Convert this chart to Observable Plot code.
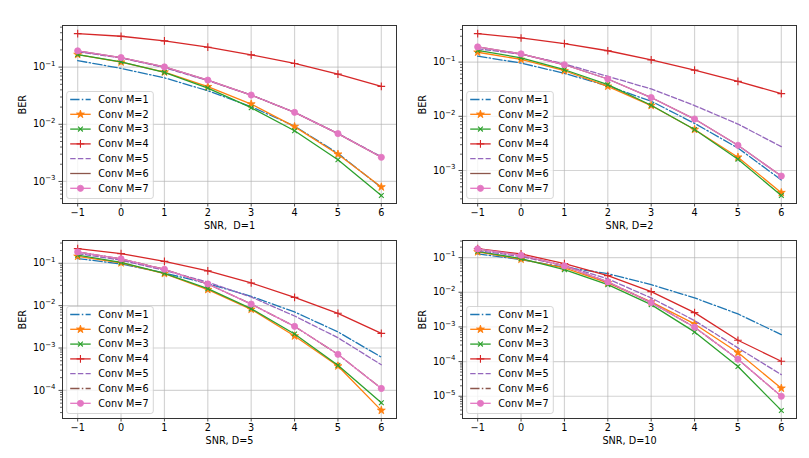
<!DOCTYPE html>
<html>
<head>
<meta charset="utf-8">
<script src="https://cdn.jsdelivr.net/npm/d3@7"></script>
<script src="https://cdn.jsdelivr.net/npm/@observablehq/plot@0.6"></script>
<style>
  html, body { margin: 0; padding: 0; background: white; }
  #fig { position: relative; width: 809px; height: 458px; overflow: hidden; background: white; }
  .panel { position: absolute; }
</style>
</head>
<body>
<div id="fig"></div>
<script>
// ---------------- data ----------------
const snr = [-1, 0, 1, 2, 3, 4, 5, 6];
const seriesNames = ["Conv M=1", "Conv M=2", "Conv M=3", "Conv M=4", "Conv M=5", "Conv M=6", "Conv M=7"];
const xLabels = ["SNR,  D=1", "SNR, D=2", "SNR, D=5", "SNR, D=10"];

// D = 1
const d1_m1 = [0.130, 0.095, 0.065, 0.0386, 0.0203, 0.0093, 0.0031, 0.00078];
const d1_m2 = [0.166, 0.122, 0.0818, 0.0454, 0.0226, 0.0091, 0.0030, 0.00080];
const d1_m3 = [0.166, 0.124, 0.081, 0.043, 0.0195, 0.0077, 0.0024, 0.00057];
const d1_m4 = [0.386, 0.347, 0.288, 0.223, 0.164, 0.116, 0.0755, 0.046];
const d1_m5 = [0.185, 0.145, 0.098, 0.058, 0.0325, 0.0162, 0.0069, 0.0027];
const d1_m6 = [0.193, 0.147, 0.101, 0.0593, 0.0325, 0.0162, 0.00687, 0.00265];
const d1_m7 = [0.193, 0.147, 0.101, 0.0593, 0.0325, 0.0162, 0.00687, 0.00265];

// D = 2
const d2_m1 = [0.129, 0.096, 0.062, 0.0363, 0.019, 0.0074, 0.0026, 0.00067];
const d2_m2 = [0.152, 0.112, 0.0693, 0.0358, 0.0158, 0.0057, 0.00176, 0.00039];
const d2_m3 = [0.164, 0.120, 0.0723, 0.0384, 0.016, 0.0057, 0.00161, 0.000347];
const d2_m4 = [0.336, 0.279, 0.220, 0.162, 0.110, 0.0713, 0.0442, 0.0262];
const d2_m5 = [0.176, 0.140, 0.093, 0.0546, 0.032, 0.0158, 0.0072, 0.00275];
const d2_m6 = [0.191, 0.142, 0.0894, 0.0488, 0.0222, 0.0089, 0.00292, 0.00079];
const d2_m7 = [0.191, 0.142, 0.0894, 0.0488, 0.0222, 0.0089, 0.00292, 0.00079];

// D = 5
const d5_m1 = [0.129, 0.0965, 0.059, 0.033, 0.0166, 0.0071, 0.0024, 0.00061];
const d5_m2 = [0.146, 0.102, 0.057, 0.0239, 0.0082, 0.00192, 0.000376, 0.0000337];
const d5_m3 = [0.155, 0.105, 0.058, 0.0252, 0.0085, 0.00214, 0.00039, 0.000051];
const d5_m4 = [0.222, 0.169, 0.111, 0.066, 0.0343, 0.0157, 0.0066, 0.00222];
const d5_m5 = [0.170, 0.118, 0.068, 0.036, 0.016, 0.0057, 0.00175, 0.000403];
const d5_m6 = [0.185, 0.127, 0.0722, 0.0325, 0.0109, 0.00325, 0.00071, 0.000111];
const d5_m7 = [0.185, 0.127, 0.0722, 0.0325, 0.0109, 0.00325, 0.00071, 0.000111];

// D = 10
const d10_m1 = [0.128, 0.0875, 0.0526, 0.0345, 0.0166, 0.0069, 0.00237, 0.0006];
const d10_m2 = [0.146, 0.0895, 0.0503, 0.0186, 0.00526, 0.00122, 0.000182, 0.000017];
const d10_m3 = [0.152, 0.0935, 0.045, 0.0166, 0.0044, 0.000718, 0.000072, 0.0000039];
const d10_m4 = [0.182, 0.128, 0.067, 0.0303, 0.0104, 0.00259, 0.000412, 0.000102];
const d10_m5 = [0.160, 0.107, 0.0588, 0.0243, 0.00687, 0.00152, 0.000248, 0.000042];
const d10_m6 = [0.178, 0.117, 0.0575, 0.0199, 0.00504, 0.00098, 0.000117, 0.00001];
const d10_m7 = [0.178, 0.117, 0.0575, 0.0199, 0.00504, 0.00098, 0.000117, 0.00001];

const panelsData = [
  [d1_m1, d1_m2, d1_m3, d1_m4, d1_m5, d1_m6, d1_m7],
  [d2_m1, d2_m2, d2_m3, d2_m4, d2_m5, d2_m6, d2_m7],
  [d5_m1, d5_m2, d5_m3, d5_m4, d5_m5, d5_m6, d5_m7],
  [d10_m1, d10_m2, d10_m3, d10_m4, d10_m5, d10_m6, d10_m7]
];

// ---------------- styles ----------------
const colors = ["#1f77b4", "#ff7f0e", "#2ca02c", "#d62728", "#9467bd", "#8c564b", "#e377c2"];
const DASHDOT = "9.3,2.3,1.5,2.3";
const DASH = "5.4,2.3";
const dashes = [DASHDOT, null, null, null, DASH, null, null];
const markers = [null, "star", "times", "plus", null, null, "circle"];
const markerR = {star: 2.5, times: 2.3, plus: 2.6, circle: 3.1};
const d3Sym = {star: d3.symbolStar, times: d3.symbolTimes, plus: d3.symbolPlus, circle: d3.symbolCircle};
const LW = 1.3;

const fmtPow = d => "10^" + Math.round(Math.log10(d));
const fmtX = d => d < 0 ? "\u2212" + (-d) : String(d);

const layout = [
  {left: 0,   top: 0,   mt: 25, mb: 26},
  {left: 400, top: 0,   mt: 25, mb: 26},
  {left: 0,   top: 229, mt: 11, mb: 40},
  {left: 400, top: 229, mt: 11, mb: 40}
];
const W = 404, H = 229, ML = 62, MR = 8;

const fig = document.getElementById("fig");

panelsData.forEach((series, p) => {
  const m6Dash = p >= 2 ? DASHDOT : null;
  const dashP = dashes.map((d, i) => i === 5 ? m6Dash : d);
  const rows = series.map((vals, i) => vals.map((v, j) => ({snr: snr[j], ber: v, s: i}))).flat();
  const logs = rows.map(r => Math.log10(r.ber));
  const lo = d3.min(logs), hi = d3.max(logs);
  const pad = (hi - lo) * 0.05;
  const yDomain = [Math.pow(10, lo - pad), Math.pow(10, hi + pad)];
  const decades = [], minors = [];
  for (let k = Math.floor(lo - pad); k <= Math.ceil(hi + pad); k++) {
    const v = Math.pow(10, k);
    if (v >= yDomain[0] && v <= yDomain[1]) decades.push(v);
    for (let m = 2; m <= 9; m++) {
      const u = m * v;
      if (u >= yDomain[0] && u <= yDomain[1]) minors.push(u);
    }
  }
  const xPad = (d3.max(snr) - d3.min(snr)) * 0.05;

  const marks = [
    Plot.gridX(snr, {stroke: "#b0b0b0", strokeOpacity: 0.55, strokeWidth: 1.2}),
    Plot.gridY(decades, {stroke: "#b0b0b0", strokeOpacity: 0.55, strokeWidth: 1.2}),
    Plot.axisY(minors, {anchor: "left", tickSize: 2, tickFormat: () => "", label: null, stroke: "#222", strokeWidth: 0.7}),
    Plot.axisY(decades, {anchor: "left", tickSize: 3.5, tickPadding: 3.5, tickFormat: fmtPow, label: null, stroke: "#222", strokeWidth: 0.8, fill: "#000"}),
    Plot.axisX(snr, {anchor: "bottom", tickSize: 3.5, tickPadding: 2.5, tickFormat: fmtX, label: null, stroke: "#222", strokeWidth: 0.8, fill: "#000"})
  ];
  series.forEach((vals, i) => {
    const data = rows.filter(r => r.s === i);
    marks.push(Plot.line(data, {x: "snr", y: "ber", stroke: colors[i], strokeWidth: LW, strokeDasharray: dashP[i] || undefined}));
    const mk = markers[i];
    if (mk) {
      const filled = mk === "star" || mk === "circle";
      marks.push(Plot.dot(data, {
        x: "snr", y: "ber", symbol: () => mk, r: markerR[mk],
        fill: filled ? colors[i] : "none", stroke: colors[i], strokeWidth: filled ? 0.8 : 1.1
      }));
    }
  });
  marks.push(Plot.frame({stroke: "#333", strokeWidth: 1}));
  marks.push(Plot.text([xLabels[p]], {frameAnchor: "bottom", dy: 25.5, text: d => d, fill: "#000"}));
  marks.push(Plot.text(["BER"], {frameAnchor: "left", dx: -40, rotate: -90, text: d => d, fill: "#000"}));

  const chart = Plot.plot({
    width: W, height: H,
    marginLeft: ML, marginRight: MR, marginTop: layout[p].mt, marginBottom: layout[p].mb,
    style: {fontFamily: "'DejaVu Sans', sans-serif", fontSize: "9.7px", color: "#000", background: "transparent", overflow: "visible"},
    x: {domain: [d3.min(snr) - xPad, d3.max(snr) + xPad]},
    y: {type: "log", domain: yDomain},
    symbol: {type: "identity"},
    marks
  });

  const svg = d3.select(chart.tagName.toLowerCase() === "svg" ? chart : chart.querySelector("svg"));

  // mathtext-like superscripts for the log tick labels
  svg.selectAll("text").each(function () {
    const t = this.textContent;
    const m = /^10\^(-?\d+)$/.exec(t);
    if (!m) return;
    const e = m[1].replace("-", "\u2212");
    const sel = d3.select(this);
    sel.text("10");
    sel.append("tspan").attr("dy", "-0.62em").attr("font-size", "0.72em").text(e);
  });

  // legend (lower left, matplotlib style)
  const frameBottom = H - layout[p].mb;
  const bw = 86.6, bh = 107;
  const bx = ML + 4.7, by = frameBottom - 4.5 - bh;
  const g = svg.append("g").attr("font-family", "'DejaVu Sans', sans-serif").attr("font-size", "9.7px")
    .attr("text-anchor", "start");
  g.append("rect").attr("x", bx).attr("y", by).attr("width", bw).attr("height", bh).attr("rx", 2.5)
    .attr("fill", "white").attr("fill-opacity", 0.8).attr("stroke", "#cccccc").attr("stroke-width", 0.8);
  seriesNames.forEach((name, i) => {
    const cy = by + 8 + i * 14.8;
    const x0 = bx + 3.5, x1 = bx + 24;
    const ln = g.append("line").attr("x1", x0).attr("x2", x1).attr("y1", cy).attr("y2", cy)
      .attr("stroke", colors[i]).attr("stroke-width", LW);
    if (dashP[i]) ln.attr("stroke-dasharray", dashP[i]);
    const mk = markers[i];
    if (mk) {
      const filled = mk === "star" || mk === "circle";
      g.append("path")
        .attr("d", d3.symbol(d3Sym[mk], Math.PI * markerR[mk] * markerR[mk])())
        .attr("transform", `translate(${(x0 + x1) / 2},${cy})`)
        .attr("fill", filled ? colors[i] : "none").attr("stroke", colors[i])
        .attr("stroke-width", filled ? 0.8 : 1.1);
    }
    g.append("text").attr("x", bx + 31.6).attr("y", cy).attr("dy", "0.35em").attr("fill", "#000")
      .attr("text-anchor", "start").text(name);
  });

  const div = document.createElement("div");
  div.className = "panel";
  div.style.left = layout[p].left + "px";
  div.style.top = layout[p].top + "px";
  div.appendChild(chart);
  fig.appendChild(div);
});
</script>
</body>
</html>
